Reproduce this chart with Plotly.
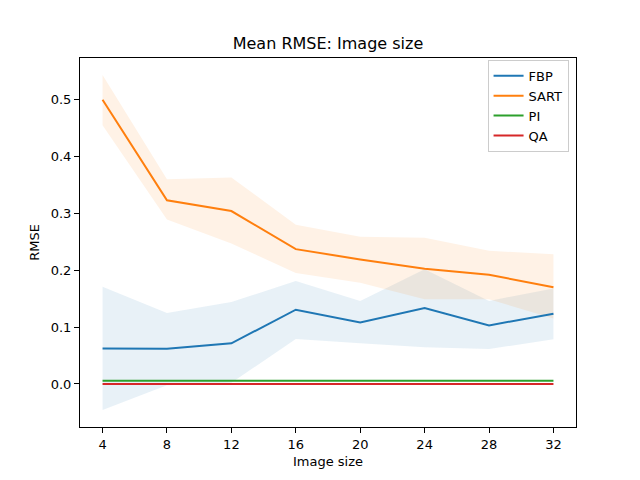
import plotly.graph_objects as go

sizes = [4, 8, 12, 16, 20, 24, 28, 32]

fbp_mean = [0.0626, 0.062, 0.0715, 0.1306, 0.108, 0.1335, 0.103, 0.1236]
fbp_upper = [0.171, 0.125, 0.144, 0.181, 0.146, 0.2015, 0.146, 0.168]
fbp_lower = [-0.0457, -0.002, 0.002, 0.079, 0.0715, 0.0645, 0.0615, 0.0785]

sart_mean = [0.4997, 0.323, 0.304, 0.237, 0.219, 0.2026, 0.192, 0.170]
sart_upper = [0.543, 0.360, 0.363, 0.280, 0.259, 0.257, 0.234, 0.228]
sart_lower = [0.455, 0.289, 0.247, 0.195, 0.178, 0.149, 0.149, 0.115]

pi_mean = [0.0058] * 8
qa_mean = [0.0] * 8

series = [
    ("FBP", fbp_mean, fbp_lower, fbp_upper, "#1f77b4", "rgba(31,119,180,0.1)"),
    ("SART", sart_mean, sart_lower, sart_upper, "#ff7f0e", "rgba(255,127,14,0.1)"),
    ("PI", pi_mean, None, None, "#2ca02c", None),
    ("QA", qa_mean, None, None, "#d62728", None),
]

fig = go.Figure()

# shaded bands first so the lines sit on top
for name, mean, lo, hi, col, fillcol in series:
    if lo is None:
        continue
    fig.add_trace(go.Scatter(x=sizes, y=lo, mode="lines", line=dict(width=0),
                             showlegend=False, hoverinfo="skip"))
    fig.add_trace(go.Scatter(x=sizes, y=hi, mode="lines", line=dict(width=0),
                             fill="tonexty", fillcolor=fillcol,
                             showlegend=False, hoverinfo="skip"))

for name, mean, lo, hi, col, fillcol in series:
    fig.add_trace(go.Scatter(x=sizes, y=mean, mode="lines", name=name,
                             line=dict(color=col, width=2)))

axis_style = dict(showline=True, linecolor="black", linewidth=1, mirror=True,
                  ticks="outside", ticklen=5, tickcolor="black", showgrid=False,
                  zeroline=False, automargin=False,
                  tickfont=dict(size=13, color="black"))

fig.update_xaxes(range=[2.6, 33.4], tickvals=sizes,
                 title=dict(text="Image size", font=dict(size=13, color="black"), standoff=6),
                 **axis_style)
fig.update_yaxes(range=[-0.0756, 0.573], tickvals=[0.0, 0.1, 0.2, 0.3, 0.4, 0.5],
                 tickformat=".1f",
                 title=dict(text="RMSE", font=dict(size=13, color="black"), standoff=8),
                 **axis_style)

# page body adds an 8px margin, so the figure is 8px smaller each way
fig.update_layout(
    width=632, height=472,
    margin=dict(l=72, r=64, t=50, b=53, autoexpand=False),
    plot_bgcolor="white", paper_bgcolor="white",
    font=dict(family="DejaVu Sans", size=13, color="black"),
    title=dict(text="Mean RMSE: Image size", xref="paper", x=0.5, xanchor="center",
               y=1 - 35 / 472, yanchor="middle", font=dict(size=16)),
    legend=dict(x=0.985, y=0.995, xanchor="right", yanchor="top",
                traceorder="normal",
                bordercolor="#cccccc", borderwidth=1, bgcolor="rgba(255,255,255,0.8)",
                font=dict(size=13), tracegroupgap=0),
)

fig.write_html("out.html")
